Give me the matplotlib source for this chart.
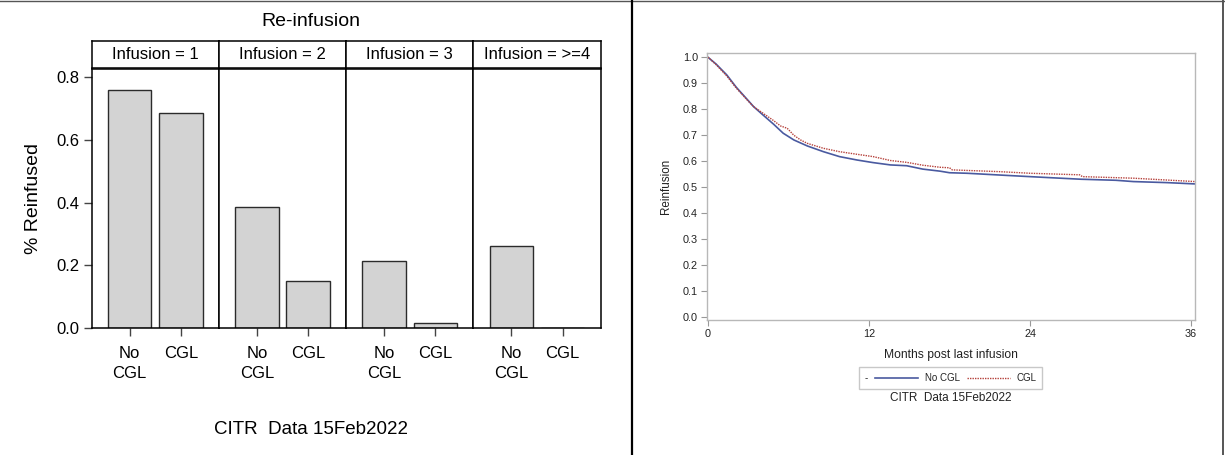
import matplotlib
matplotlib.use("Agg")
import matplotlib.pyplot as plt
from matplotlib.lines import Line2D
from matplotlib.offsetbox import AnchoredOffsetbox, HPacker, TextArea, DrawingArea

plt.rcParams['font.family'] = ['Liberation Sans', 'DejaVu Sans']

# ── Data ──────────────────────────────────────────────────────────────────────
INFUSION_GROUPS = ["1", "2", "3", ">=4"]
CGL_LABELS      = ["No\nCGL", "CGL"]
PCT_NO_CGL      = [0.758, 0.387, 0.214, 0.262]
PCT_CGL         = [0.684, 0.150, 0.016, 0.0]

# Kaplan-Meier style re-infusion curves (months post last infusion)
KM_MONTHS_NO_CGL = [0, 0.6, 1.4, 2.1, 2.9, 3.4, 4.1, 4.9, 5.6, 6.4, 7.4, 8.6,
                    9.8, 11.1, 12.3, 13.6, 14.8, 16.0, 17.3, 18.0, 19.3, 21.8,
                    24.0, 25.5, 27.8, 30.4, 31.7, 34.2, 36.3]
KM_SURV_NO_CGL   = [1.0, 0.974, 0.932, 0.885, 0.839, 0.810, 0.778, 0.742, 0.708,
                    0.682, 0.659, 0.637, 0.618, 0.605, 0.595, 0.586, 0.583, 0.570,
                    0.562, 0.556, 0.554, 0.547, 0.541, 0.537, 0.531, 0.527, 0.522,
                    0.518, 0.513]
KM_MONTHS_CGL    = [0, 0.6, 1.4, 2.1, 2.9, 3.4, 4.4, 4.9, 5.4, 5.9, 6.4, 6.9,
                    7.4, 8.6, 9.8, 11.1, 12.3, 13.6, 14.8, 16.0, 17.3, 18.0,
                    18.2, 21.8, 24.0, 27.7, 27.9, 31.7, 36.3]
KM_SURV_CGL      = [1.0, 0.972, 0.928, 0.882, 0.837, 0.810, 0.774, 0.756, 0.736,
                    0.727, 0.700, 0.682, 0.669, 0.650, 0.637, 0.627, 0.618, 0.603,
                    0.596, 0.585, 0.577, 0.575, 0.567, 0.560, 0.554, 0.548, 0.541,
                    0.535, 0.522]

# ── Layout helpers (pixel boxes on a 1225x455 canvas) ─────────────────────────
W, H = 1225, 455


def px_box(left, top, right, bottom):
    return [left / W, 1 - bottom / H, (right - left) / W, (bottom - top) / H]


fig = plt.figure(figsize=(W / 100, H / 100), dpi=100)

# ── Left: lattice-style barchart, one panel per infusion count ────────────────
BAR_FILL = "#d3d3d3"
BAR_EDGE = "#2b2b2b"
panel_left, panel_right = 91.6, 600.6
panel_w = (panel_right - panel_left) / 4

for i, grp in enumerate(INFUSION_GROUPS):
    x0 = panel_left + i * panel_w
    ax = fig.add_axes(px_box(x0, 69, x0 + panel_w, 328.3))
    ax.bar([1, 2], [PCT_NO_CGL[i], PCT_CGL[i]], width=0.85,
           color=BAR_FILL, edgecolor=BAR_EDGE, linewidth=1.0)
    ax.set_xlim(0.26, 2.74)
    ax.set_ylim(0, 0.825)
    ax.set_xticks([1, 2], CGL_LABELS, fontsize=12, linespacing=1.45)
    for s in ax.spines.values():
        s.set_color("black")
        s.set_linewidth(1.1)
    ax.tick_params(axis="x", direction="out", length=5.5, width=1.0,
                   color="#444444", pad=7)
    if i == 0:
        ax.set_yticks([0, 0.2, 0.4, 0.6, 0.8],
                      ["0.0", "0.2", "0.4", "0.6", "0.8"], fontsize=12)
        ax.tick_params(axis="y", direction="out", length=5.5, width=1.0,
                       color="#444444", pad=3)
    else:
        ax.tick_params(axis="y", left=False, labelleft=False)

    strip = fig.add_axes(px_box(x0, 41, x0 + panel_w, 68))
    strip.set_xticks([])
    strip.set_yticks([])
    for s in strip.spines.values():
        s.set_color("black")
        s.set_linewidth(1.1)
    strip.text(0.5, 0.5, f"Infusion = {grp}", ha="center", va="center",
               fontsize=12, transform=strip.transAxes)

fig.text(310.7 / W, 1 - 21 / H, "Re-infusion", ha="center", va="center", fontsize=14)
fig.text(310.7 / W, 1 - 430 / H, "CITR  Data 15Feb2022", ha="center", va="center",
         fontsize=13.5)
fig.text(33 / W, 1 - 198 / H, "% Reinfused", ha="center", va="center",
         rotation=90, fontsize=14)

# ── Right: re-infusion curves by CGL ──────────────────────────────────────────
BLUE = "#4a5aa0"
RED = "#b5403a"
axk = fig.add_axes(px_box(706.7, 53.3, 1194.7, 320))
axk.plot(KM_MONTHS_NO_CGL, KM_SURV_NO_CGL, color=BLUE, lw=1.2)
axk.plot(KM_MONTHS_CGL, KM_SURV_CGL, color=RED, lw=1.0, ls=(0, (1, 0.8)))
axk.set_xlim(-0.1, 36.27)
axk.set_ylim(-0.0104, 1.0154)
axk.set_xticks([0, 12, 24, 36])
axk.set_yticks([v / 10 for v in range(11)], [f"{v / 10:.1f}" for v in range(11)])
for s in axk.spines.values():
    s.set_color("#b8b8b8")
    s.set_linewidth(1.0)
axk.tick_params(direction="out", length=4.3, width=0.8, color="#999999",
                labelsize=7.8, labelcolor="#222222", pad=2)
axk.set_ylabel("Reinfusion", fontsize=8.4, color="#222222")
axk.yaxis.set_label_coords(-0.071, 0.5)
axk.set_xlabel("Months post last infusion", fontsize=8.7, color="#222222")
axk.xaxis.set_label_coords(0.5, -0.108)

# legend row: "-"  ──── No CGL  ····· CGL
def legend_line(color, ls, lw):
    da = DrawingArea(31, 6, 0, 0)
    da.add_artist(Line2D([0, 31], [3, 3], color=color, ls=ls, lw=lw))
    return da


items = [
    TextArea("-", textprops=dict(fontsize=7, color="#222222")),
    legend_line(BLUE, "-", 1.2),
    TextArea("No CGL", textprops=dict(fontsize=7, color="#222222")),
    legend_line(RED, (0, (1, 0.8)), 1.0),
    TextArea("CGL", textprops=dict(fontsize=7, color="#222222")),
]
row = HPacker(children=items, align="center", pad=0, sep=5)
leg = AnchoredOffsetbox(loc="center", child=row, pad=0.4, borderpad=0,
                        frameon=True, bbox_to_anchor=(950.5 / W, 1 - 378 / H),
                        bbox_transform=fig.transFigure)
leg.patch.set_edgecolor("#c8c8c8")
leg.patch.set_linewidth(1.0)
axk.add_artist(leg)

fig.text(950.5 / W, 1 - 397.7 / H, "CITR  Data 15Feb2022", ha="center", va="center",
         fontsize=8.5, color="#222222")

# ── Frame lines around the two halves ─────────────────────────────────────────
fig.add_artist(Line2D([0, 1], [1 - 1 / H, 1 - 1 / H], transform=fig.transFigure,
                      color="#555555", lw=1.0))
fig.add_artist(Line2D([632 / W, 632 / W], [0, 1], transform=fig.transFigure,
                      color="black", lw=1.6))
fig.add_artist(Line2D([1223 / W, 1223 / W], [0, 1], transform=fig.transFigure,
                      color="#555555", lw=1.4))

fig.savefig("out.png", dpi=100)
